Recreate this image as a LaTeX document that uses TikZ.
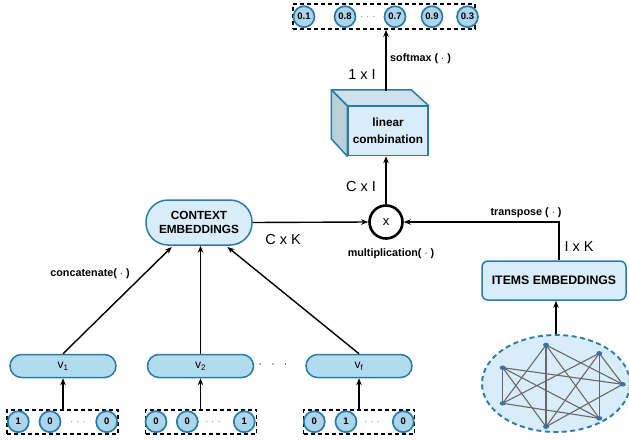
\documentclass[tikz,border=0pt]{standalone}
\usepackage{fontspec}
\setmainfont{Liberation Sans}
\usetikzlibrary{arrows.meta,shapes.geometric}

\definecolor{edgeblue}{RGB}{42,124,168}
\definecolor{palefill}{RGB}{216,237,247}
\definecolor{pillfill}{RGB}{178,219,239}
\definecolor{dotfill}{RGB}{170,213,235}
\definecolor{netnode}{RGB}{58,110,176}
\definecolor{cubetopc}{RGB}{205,226,236}
\definecolor{cubeside}{RGB}{190,207,216}
\definecolor{netedge}{RGB}{105,105,105}

\tikzset{
  conn/.style={line width=1.4pt, -{Stealth[length=7pt,width=5.5pt]}},
  pill/.style={draw=edgeblue, line width=1.5pt, fill=pillfill, rounded corners=11.5pt,
    minimum width=106pt, minimum height=23pt, inner sep=0pt,
    font=\fontsize{12}{13}\selectfont},
  bigpill/.style={draw=edgeblue, line width=1.5pt, fill=palefill, rounded corners=22pt,
    minimum width=106pt, minimum height=45pt, inner sep=0pt, align=center,
    font=\bfseries\fontsize{11.8}{14}\selectfont},
  itembox/.style={draw=edgeblue, line width=1.5pt, fill=palefill, rounded corners=6pt,
    minimum width=144pt, minimum height=39pt, inner sep=0pt,
    font=\bfseries\fontsize{12.3}{13}\selectfont},
  dashrow/.style={draw=black, line width=1.5pt, dash pattern=on 4pt off 3pt,
    inner sep=0pt},
  bit/.style={circle, draw=edgeblue, line width=1.7pt, fill=dotfill, minimum size=21pt,
    inner sep=0pt, font=\bfseries\fontsize{9.5}{10}\selectfont},
  rowdots/.style={font=\fontsize{9}{10}\selectfont, inner sep=0pt},
  oplabel/.style={font=\bfseries\fontsize{10.8}{12}\selectfont, inner sep=1pt},
  dimlabel/.style={font=\fontsize{14.5}{16}\selectfont, inner sep=1pt, fill=white},
  vertex/.style={ellipse, fill=netnode, minimum width=6pt, minimum height=4.5pt, inner sep=0pt},
  netline/.style={draw=netedge, line width=1.1pt}
}

\begin{document}
\begin{tikzpicture}[x=1pt,y=-1pt]
\useasboundingbox (0,0) rectangle (629,439);

% ---------- output probabilities ----------
\node[dashrow, minimum width=182pt, minimum height=25pt] (outrow) at (384,16.7) {};
\node[bit] (o1) at (304,16.7) {0.1};
\node[bit] (o2) at (345,16.7) {0.8};
\node[rowdots] (od) at (368,17) {$\cdot\,\cdot\,\cdot$};
\node[bit] (o3) at (395,16.7) {0.7};
\node[bit] (o4) at (432,16.7) {0.9};
\node[bit] (o5) at (467.5,16.7) {0.3};

% ---------- linear combination cube ----------
\node[draw=edgeblue, line width=1.5pt, fill=palefill, minimum width=80pt, minimum height=49pt,
  inner sep=0pt, align=center, font=\bfseries\fontsize{11.8}{17}\selectfont]
  (lin) at (388,131) {linear\\combination};
\draw[draw=edgeblue, line width=1.5pt, fill=cubetopc, line join=round]
  (lin.north west) -- ++(-16,-16) -- ++(80,0) -- (lin.north east) -- cycle;
\draw[draw=edgeblue, line width=1.5pt, fill=cubeside, line join=round]
  (lin.north west) -- ++(-16,-16) -- ++(0,49) -- (lin.south west) -- cycle;
\coordinate (cubetop) at (386,91);

% ---------- multiplication ----------
\node[circle, draw=black, line width=2.6pt, fill=white, minimum size=33pt, inner sep=0pt,
  font=\fontsize{13}{14}\selectfont] (mul) at (386,222) {x};

% ---------- context embeddings ----------
\node[bigpill] (ctx) at (199,222.5) {CONTEXT\\EMBEDDINGS};

% ---------- item embeddings ----------
\node[itembox] (items) at (554,280.5) {ITEMS EMBEDDINGS};
\coordinate (turn) at (559,222);

% ---------- item graph ----------
\node[ellipse, draw=edgeblue, line width=1.9pt, dash pattern=on 5pt off 3.5pt,
  fill=palefill, minimum width=148pt, minimum height=97pt, inner sep=0pt] (net) at (556,383.5) {};
\coordinate (na) at (546,345);
\coordinate (nb) at (599.3,353.3);
\coordinate (nc) at (502.7,367.7);
\coordinate (nd) at (622.7,384.3);
\coordinate (ne) at (502.7,403.3);
\coordinate (nf) at (599.3,418.3);
\coordinate (ng) at (546,426.7);
\foreach \p/\q in {na/ng,na/ne,na/nf,na/nd,nb/nf,nb/nd,nb/ne,nb/ng,nc/ne,nc/nd,nc/nf,nc/ng,ne/nf,ng/nd}
  \draw[netline] (\p) -- (\q);
\foreach \v in {na,nb,nc,nd,ne,nf,ng}
  \node[vertex] (\v-dot) at (\v) {};

% ---------- field embeddings ----------
\node[pill] (v1) at (63,366) {v\textsubscript{1}};
\node[pill] (v2) at (200.5,366) {v\textsubscript{2}};
\node[pill] (vf) at (359,366) {v\textsubscript{f}};
\node[font=\fontsize{12}{13}\selectfont] (vdots) at (273,365) {$\cdot\;\;\cdot\;\;\cdot$};

% ---------- one-hot inputs ----------
\node[dashrow, minimum width=111pt, minimum height=24pt] (row1) at (62.5,422) {};
\node[bit] (a1) at (18.3,421.7) {1};
\node[bit] (a2) at (50,421.7) {0};
\node[rowdots] (ad) at (78,422) {$\cdot\,\cdot\,\cdot$};
\node[bit] (a3) at (106.7,421.7) {0};

\node[dashrow, minimum width=111pt, minimum height=24pt] (row2) at (201,422) {};
\node[bit] (b1) at (156,421.7) {0};
\node[bit] (b2) at (187.3,421.7) {0};
\node[rowdots] (bd) at (213,422) {$\cdot\,\cdot\,\cdot$};
\node[bit] (b3) at (244.3,421.7) {1};

\node[dashrow, minimum width=111pt, minimum height=24pt] (row3) at (359,422) {};
\node[bit] (c1) at (314.3,421.7) {0};
\node[bit] (c2) at (346,421.7) {1};
\node[rowdots] (cd) at (372,422) {$\cdot\,\cdot\,\cdot$};
\node[bit] (c3) at (403.3,421.7) {0};

% ---------- connectors ----------
\draw[conn] (row1.north -| v1) -- (v1.south);
\draw[conn] (row2.north -| v2) -- (v2.south);
\draw[conn] (row3.north -| vf) -- (vf.south);

\coordinate (t1) at (171.7,247);
\coordinate (t3) at (227.5,247);
\draw[conn] (v1.north) -- (t1);
\draw[conn] (v2.north) -- (v2.north |- ctx.south);
\draw[conn] (vf.north) -- (t3);

\draw[conn] (ctx.east) -- (mul.west);
\draw[conn] (turn |- items.north) -- (turn) -- (mul.east);
\draw[conn] (mul.north) -- (mul.north |- lin.south);
\draw[conn] (cubetop) -- (cubetop |- outrow.south);
\draw[conn] (net.north) -- (net.north |- items.south);

% ---------- labels ----------
\node[oplabel, anchor=west] (lsoft) at (389,59) {softmax ( $\cdot$ )};
\node[dimlabel] (l1xi) at (362,75) {1 x I};
\node[dimlabel] (lcxi) at (361,187) {C x I};
\node[dimlabel, fill=none] (lcxk) at (283,240) {C x K};
\node[oplabel] (lmul) at (391,254) {multiplication( $\cdot$ )};
\node[oplabel] (ltr) at (526,213) {transpose ( $\cdot$ )};
\node[dimlabel, fill=none] (lixk) at (579,247) {I x K};
\node[oplabel] (lcat) at (90,274) {concatenate( $\cdot$ )};
\end{tikzpicture}
\end{document}
